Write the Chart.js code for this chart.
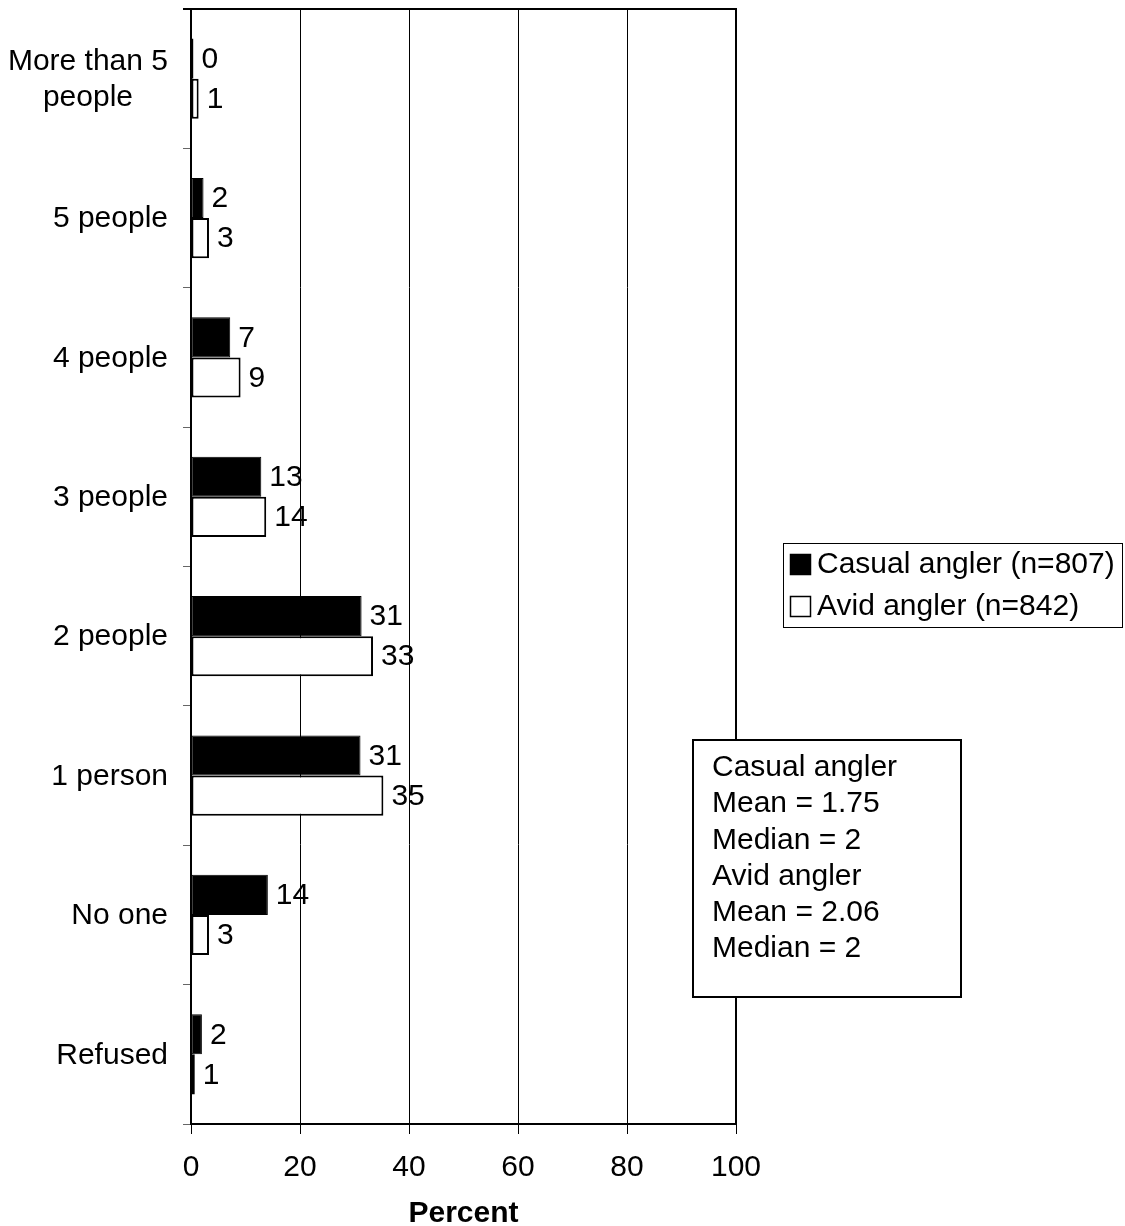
<!DOCTYPE html>
<html>
<head>
<meta charset="utf-8">
<script src="https://cdn.jsdelivr.net/npm/chart.js@4/dist/chart.umd.min.js"></script>
<style>
html,body{margin:0;padding:0;background:#fff;}
#wrap{position:relative;width:1125px;height:1226px;}
</style>
</head>
<body>
<div id="wrap"><canvas id="c" width="1125" height="1226"></canvas></div>
<script>
// ---- data ----
const categories = [['More than 5', 'people'], '5 people', '4 people', '3 people', '2 people', '1 person', 'No one', 'Refused'];
const seriesNames = ['Casual angler (n=807)', 'Avid angler (n=842)'];
const casualValues = [0.45, 2.3, 7.2, 12.9, 31.3, 31.1, 14.1, 2.0];
const avidValues = [1.4, 3.3, 9.1, 13.8, 33.4, 35.3, 3.3, 0.7];
const xTicks = [0, 20, 40, 60, 80, 100];
const xTitle = 'Percent';
const statsLines = ['Casual angler', 'Mean = 1.75', 'Median = 2', 'Avid angler', 'Mean = 2.06', 'Median = 2'];

const FONT = "'Liberation Sans', Arial, sans-serif";
const FS = 30;

const framePlugin = {
  id: 'framePlugin',
  afterDatasetsDraw(chart) {
    const ctx = chart.ctx;
    const a = chart.chartArea;
    ctx.save();
    ctx.strokeStyle = '#000';
    ctx.lineWidth = 2;
    ctx.beginPath();
    ctx.moveTo(a.left - 8, a.top);
    ctx.lineTo(a.right, a.top);
    ctx.lineTo(a.right, a.bottom);
    ctx.stroke();
    ctx.restore();
  },
  afterDraw(chart) {
    const ctx = chart.ctx;
    const a = chart.chartArea;
    const yScale = chart.scales.y;
    ctx.save();
    ctx.fillStyle = '#000';
    ctx.font = FS + 'px ' + FONT;
    // category labels
    const rightX = a.left - 23;
    categories.forEach((lab, i) => {
      const lines = Array.isArray(lab) ? lab : [lab];
      const cy = yScale.getPixelForValue(i);
      const w = Math.max(...lines.map(l => ctx.measureText(l).width));
      const lh = 36;
      ctx.textAlign = 'center';
      ctx.textBaseline = 'middle';
      lines.forEach((l, j) => {
        const y = cy + (j - (lines.length - 1) / 2) * lh + 1;
        ctx.fillText(l, rightX - w / 2, y);
      });
    });
    // data labels
    ctx.textAlign = 'left';
    ctx.textBaseline = 'middle';
    chart.data.datasets.forEach((ds, di) => {
      const meta = chart.getDatasetMeta(di);
      meta.data.forEach((bar, i) => {
        ctx.fillText(String(Math.round(ds.data[i])), bar.x + 8, bar.y + 1);
      });
    });
    // legend box
    const lx = 783, ly = 543, lw = 339, lhh = 84;
    ctx.strokeStyle = '#000';
    ctx.lineWidth = 1;
    ctx.strokeRect(lx + 0.5, ly + 0.5, lw, lhh);
    const colors = [['#000', '#000'], ['#fff', '#000']];
    [564, 606].forEach((y, k) => {
      ctx.fillStyle = colors[k][0];
      ctx.fillRect(790, y - 10, 21, 21);
      ctx.strokeStyle = '#000';
      ctx.lineWidth = 1.5;
      ctx.strokeRect(790.5, y - 9.5, 20, 20);
      ctx.fillStyle = '#000';
      ctx.fillText(seriesNames[k], 817, y + 1);
    });
    // stats box
    ctx.fillStyle = '#fff';
    ctx.fillRect(693, 740, 268, 257);
    ctx.strokeStyle = '#000';
    ctx.lineWidth = 2;
    ctx.strokeRect(693, 740, 268, 257);
    ctx.fillStyle = '#000';
    statsLines.forEach((t, i) => {
      ctx.fillText(t, 712, 768 + i * 36.2);
    });
    ctx.restore();
  }
};

new Chart(document.getElementById('c'), {
  type: 'bar',
  data: {
    labels: categories,
    datasets: [
      {
        label: seriesNames[0],
        data: casualValues,
        backgroundColor: '#000',
        borderColor: '#000',
        borderWidth: 1,
        borderSkipped: false,
        categoryPercentage: 0.575,
        barPercentage: 1.0
      },
      {
        label: seriesNames[1],
        data: avidValues,
        backgroundColor: '#fff',
        borderColor: '#000',
        borderWidth: 2,
        borderSkipped: false,
        categoryPercentage: 0.575,
        barPercentage: 1.0
      }
    ]
  },
  options: {
    indexAxis: 'y',
    responsive: false,
    animation: false,
    layout: { padding: { top: 9, right: 389, left: 0, bottom: 0 } },
    plugins: {
      legend: { display: false },
      tooltip: { enabled: false }
    },
    scales: {
      x: {
        min: 0,
        max: 100,
        afterBuildTicks(scale) { scale.ticks = xTicks.map(v => ({ value: v })); },
        afterFit(scale) { scale.height = 102; },
        ticks: {
          color: '#000',
          font: { family: FONT, size: FS },
          padding: 16,
          maxRotation: 0
        },
        grid: {
          color: '#000',
          lineWidth: 1,
          drawTicks: true,
          tickLength: 10,
          tickColor: '#000'
        },
        border: { display: true, color: '#000', width: 2 },
        title: {
          display: true,
          text: xTitle,
          color: '#000',
          font: { family: FONT, size: FS, weight: 'bold' },
          padding: { top: 10, bottom: -6 }
        }
      },
      y: {
        afterFit(scale) { scale.width = 191; },
        ticks: { display: false },
        grid: {
          display: true,
          offset: true,
          drawOnChartArea: false,
          drawTicks: true,
          tickLength: 8,
          tickColor: '#666'
        },
        border: { display: true, color: '#000', width: 2 }
      }
    }
  },
  plugins: [framePlugin]
});
</script>
</body>
</html>
